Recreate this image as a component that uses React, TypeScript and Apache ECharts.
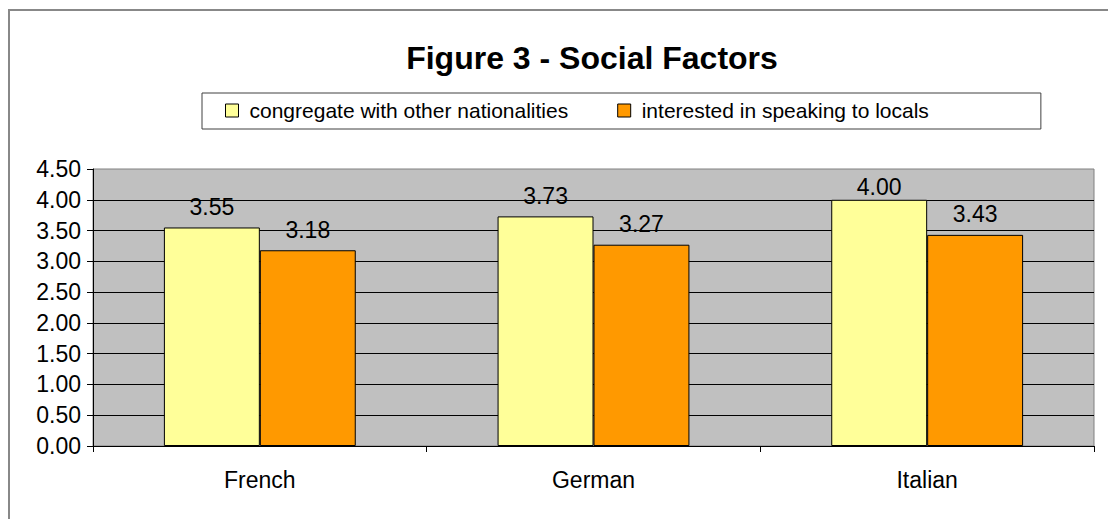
import React, { useEffect, useRef } from "react";
import * as echarts from "echarts";

const categories = ["French", "German", "Italian"];
const congregateValues = [3.55, 3.73, 4.0];
const speakingValues = [3.18, 3.27, 3.43];
const seriesNames = ["congregate with other nationalities", "interested in speaking to locals"];
const titleText = "Figure 3 - Social Factors";

const FONT = "'Liberation Sans', Arial, sans-serif";

export default function App() {
  const ref = useRef<HTMLDivElement>(null);

  useEffect(() => {
    if (!ref.current) return;
    document.body.style.margin = "0";
    const chart = echarts.init(ref.current, undefined, { renderer: "svg" });
    const valueLabel = {
      show: true,
      position: "top",
      distance: 9,
      fontFamily: FONT,
      fontSize: 23,
      color: "#000",
      formatter: (p: any) => Number(p.value).toFixed(2),
    };
    // the label of a bar that reaches the 4.00 gridline sits tucked closer to it
    const congregateData = congregateValues.map((v) =>
      v >= 4 ? { value: v, label: { distance: 1 } } : v
    );
    chart.setOption({
      animation: false,
      backgroundColor: "#ffffff",
      textStyle: { fontFamily: FONT, color: "#000" },
      title: {
        text: titleText,
        left: 587,
        top: 37,
        textAlign: "center",
        textStyle: { fontFamily: FONT, fontSize: 32, fontWeight: "bold", color: "#000" },
      },
      legend: {
        left: 202,
        top: 93,
        orient: "horizontal",
        padding: [7, 112, 8, 23],
        itemGap: 49,
        itemWidth: 13,
        itemHeight: 13,
        icon: "rect",
        backgroundColor: "#ffffff",
        borderColor: "#404040",
        borderWidth: 1,
        borderRadius: 0,
        itemStyle: { borderColor: "#000", borderWidth: 1 },
        textStyle: { fontFamily: FONT, fontSize: 21, color: "#000", padding: [0, 0, 0, 6] },
        data: seriesNames,
      },
      graphic: [
        {
          // outer frame: only its top and left edges fall inside the view
          type: "polyline",
          silent: true,
          z: -10,
          shape: { points: [[9, 1000], [9, 10], [2000, 10]] },
          style: { fill: "none", stroke: "#888888", lineWidth: 2 },
        },
      ],
      grid: {
        left: 93,
        top: 169,
        right: 14,
        bottom: 73,
        show: true,
        backgroundColor: "#c0c0c0",
        borderColor: "#808080",
        borderWidth: 1,
      },
      xAxis: {
        type: "category",
        data: categories,
        axisLine: { show: true, lineStyle: { color: "#000", width: 1 } },
        axisTick: { show: true, length: 6, lineStyle: { color: "#000" } },
        axisLabel: { fontFamily: FONT, fontSize: 23, color: "#000", margin: 22 },
      },
      yAxis: {
        type: "value",
        min: 0,
        max: 4.5,
        interval: 0.5,
        axisLine: { show: true, lineStyle: { color: "#000", width: 1 } },
        axisTick: { show: true, length: 6, lineStyle: { color: "#000" } },
        axisLabel: {
          fontFamily: FONT,
          fontSize: 23,
          color: "#000",
          margin: 12,
          formatter: (v: number) => v.toFixed(2),
        },
        splitLine: { show: true, showMaxLine: false, lineStyle: { color: "#000", width: 1 } },
      },
      series: [
        {
          name: seriesNames[0],
          type: "bar",
          data: congregateData,
          barGap: "0%",
          barCategoryGap: "42.5%",
          itemStyle: { color: "#ffff99", borderColor: "#000", borderWidth: 1 },
          label: valueLabel,
        },
        {
          name: seriesNames[1],
          type: "bar",
          data: speakingValues,
          itemStyle: { color: "#ff9900", borderColor: "#000", borderWidth: 1 },
          label: valueLabel,
        },
      ],
    });
    return () => chart.dispose();
  }, []);

  return <div ref={ref} style={{ width: 1108, height: 519 }} />;
}
